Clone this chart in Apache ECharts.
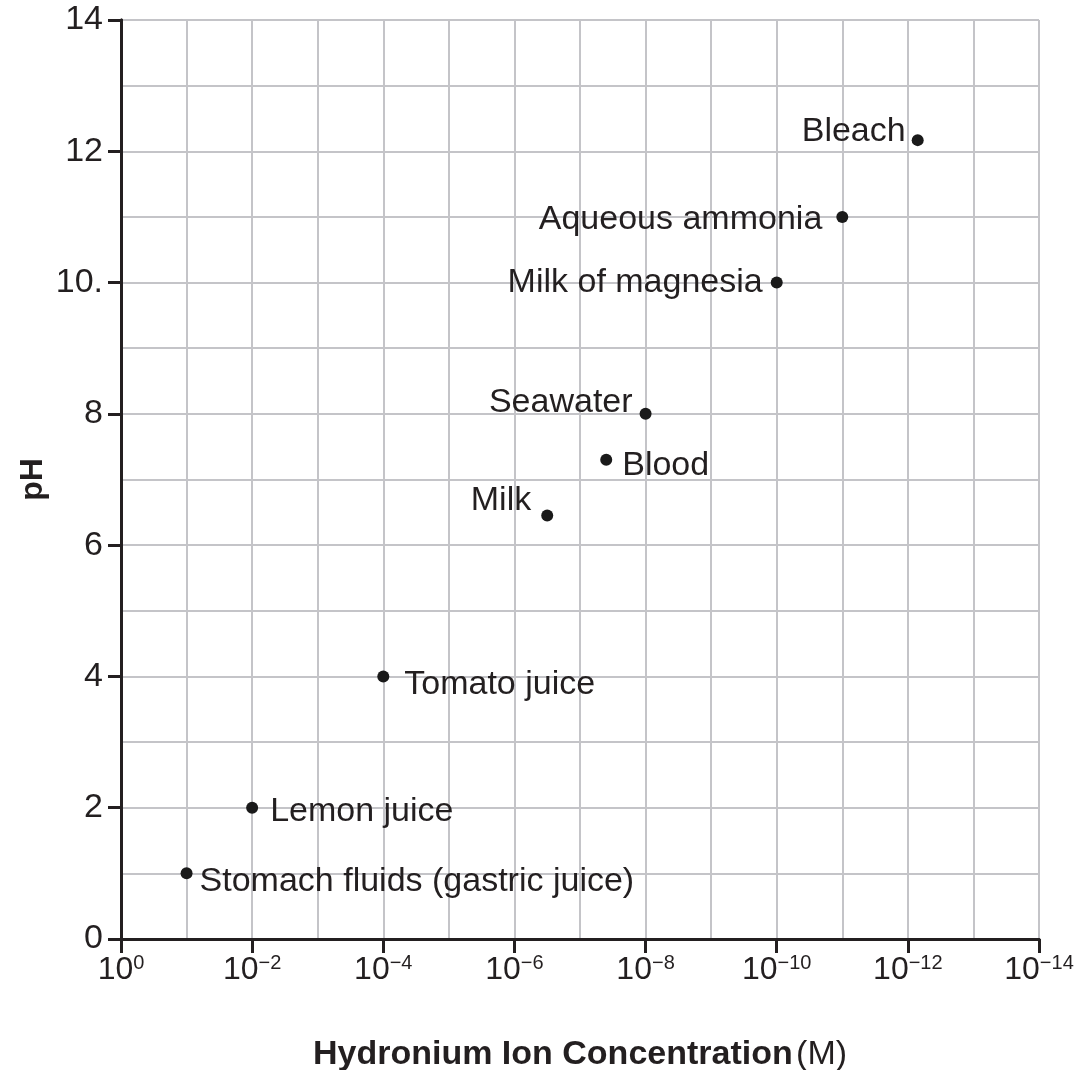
<!DOCTYPE html>
<html>
<head>
<meta charset="utf-8">
<script src="https://cdn.jsdelivr.net/npm/echarts@6.0.0/dist/echarts.min.js"></script>
<style>
  html, body { margin: 0; padding: 0; background: #fff; }
  #chart { width: 1077px; height: 1070px; }
</style>
</head>
<body>
<div id="chart"></div>
<script>
// substances, x = -log10[H3O+], y = pH
const substances = [
  "Stomach fluids (gastric juice)",
  "Lemon juice",
  "Tomato juice",
  "Milk",
  "Blood",
  "Seawater",
  "Milk of magnesia",
  "Aqueous ammonia",
  "Bleach",
];
const exponentValues = [1.0, 2.0, 4.0, 6.5, 7.4, 8.0, 10.0, 11.0, 12.15];
const phValues = [1.0, 2.0, 4.0, 6.45, 7.3, 8.0, 10.0, 11.0, 12.17];
// where each label sits relative to its dot
const labelSides = ["right", "right", "right", "left", "right", "left", "left", "left", "left"];
const labelGaps = [7, 12, 15, 10, 10, 7, 8, 14, 6];
const labelNudge = [[0, 8], [0, 4], [0, 8], [0, -15], [0, 6], [0, -11], [0, 0], [0, 3], [0, -9]];

const yTickLabels = { 0: "0", 2: "2", 4: "4", 6: "6", 8: "8", 10: "10.", 12: "12", 14: "14" };
const xTickExponents = { 0: "0", 2: "\u22122", 4: "\u22124", 6: "\u22126", 8: "\u22128", 10: "\u221210", 12: "\u221212", 14: "\u221214" };

const ink = "#231f20";
const gridGray = "#c4c4c8";
const font = "Liberation Sans, Arial, sans-serif";

const chart = echarts.init(document.getElementById("chart"), null, { renderer: "canvas" });

const points = exponentValues.map((x, i) => ({
  value: [x, phValues[i]],
  name: substances[i],
  label: {
    position: labelSides[i],
    offset: labelNudge[i],
    distance: labelGaps[i],
  },
}));

const baseAxis = {
  min: 0,
  max: 14,
  interval: 2,
  axisLine: { show: true, lineStyle: { color: ink, width: 3 } },
  splitLine: { show: true, lineStyle: { color: gridGray, width: 2 } },
  minorTick: { show: false, splitNumber: 2 },
  minorSplitLine: { show: true, lineStyle: { color: gridGray, width: 2 } },
};

chart.setOption({
  animation: false,
  backgroundColor: "#fff",
  textStyle: { fontFamily: font },
  grid: { left: 121, right: 38, top: 20, bottom: 131, containLabel: false, outerBoundsMode: "none" },
  xAxis: [
    {
      ...baseAxis,
      type: "value",
      position: "bottom",
      axisTick: { show: true, inside: false, length: 14, lineStyle: { color: ink, width: 3 } },
      axisLabel: {
        margin: 14,
        formatter: (v) => "{b|10}{s|" + xTickExponents[v] + "}",
        rich: {
          b: { fontSize: 32, color: ink, fontFamily: font, lineHeight: 34 },
          s: { fontSize: 20, color: ink, fontFamily: font, verticalAlign: "top", lineHeight: 18 },
        },
      },
      name: "{bold|Hydronium Ion Concentration} {norm|(M)}",
      nameLocation: "middle",
      nameGap: 99,
      nameTextStyle: {
        rich: {
          bold: { fontSize: 34, fontWeight: "bold", color: ink, fontFamily: font },
          norm: { fontSize: 34, color: ink, fontFamily: font },
        },
      },
    },
    {
      type: "value",
      position: "top",
      min: 0,
      max: 14,
      axisLine: { show: true, lineStyle: { color: ink, width: 3 } },
      axisTick: { show: false },
      axisLabel: { show: false },
      splitLine: { show: false },
    },
  ],
  yAxis: [
    {
      ...baseAxis,
      type: "value",
      position: "left",
      axisTick: { show: true, inside: false, length: 13, lineStyle: { color: ink, width: 3 } },
      axisLabel: {
        margin: 18,
        fontSize: 34,
        color: ink,
        fontFamily: font,
        formatter: (v) => yTickLabels[v] ?? "",
      },
      name: "pH",
      nameLocation: "middle",
      nameGap: 72,
      nameMoveOverlap: false,
      nameTextStyle: { fontSize: 32, fontWeight: "bold", color: ink, fontFamily: font },
    },
    {
      type: "value",
      position: "right",
      min: 0,
      max: 14,
      axisLine: { show: true, lineStyle: { color: ink, width: 3 } },
      axisTick: { show: false },
      axisLabel: { show: false },
      splitLine: { show: false },
    },
  ],
  series: [
    {
      type: "scatter",
      xAxisIndex: 0,
      yAxisIndex: 0,
      symbol: "circle",
      symbolSize: 12,
      itemStyle: { color: "#1a1a1a", opacity: 1 },
      label: {
        show: true,
        formatter: "{b}",
        fontSize: 34,
        color: ink,
        fontFamily: font,
      },
      emphasis: { disabled: true },
      data: points,
      z: 5,
    },
  ],
});
</script>
</body>
</html>
